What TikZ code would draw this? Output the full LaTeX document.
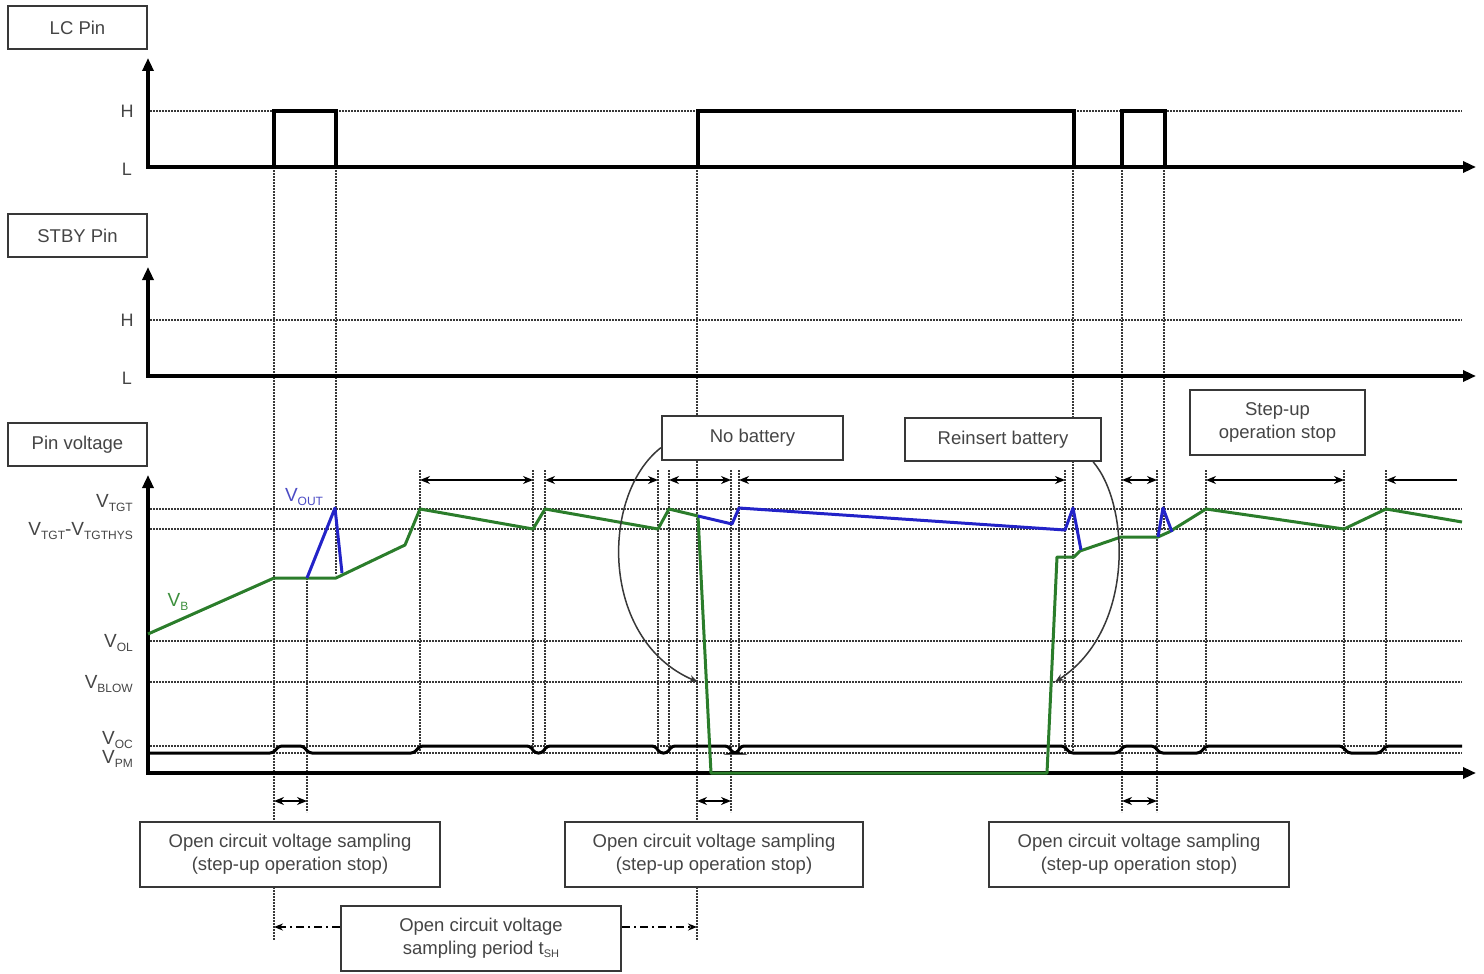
\documentclass[tikz,border=0pt]{standalone}
\usepackage{fontspec}
\setmainfont{Liberation Sans}
\usetikzlibrary{arrows.meta}
\definecolor{txtgray}{HTML}{454545}
\definecolor{boxgray}{HTML}{383838}
\definecolor{dotgray}{HTML}{383838}
\definecolor{vbgreen}{HTML}{2B7D2B}
\definecolor{voblue}{HTML}{2323C8}
\definecolor{vbtext}{HTML}{3D8F3D}
\definecolor{votext}{HTML}{4B4BC4}
\newcommand\vsub[1]{V\raisebox{-3.5pt}{\fontsize{12}{12}\selectfont #1}}
\begin{document}
\begin{tikzpicture}[x=1pt,y=-1pt,
  lbl/.style={font=\fontsize{18}{20}\selectfont, text=txtgray, inner sep=0pt},
  vlbl/.style={font=\fontsize{19}{20}\selectfont, text=txtgray, inner sep=0pt, anchor=east},
  box/.style={draw=boxgray, line width=2pt, fill=white, align=center, font=\fontsize{18.5}{23}\selectfont, text=txtgray, inner sep=0pt},
  grid/.style={line width=1.5pt, draw=dotgray, dash pattern=on 1.7pt off 1.3pt},
  axis/.style={line width=3.2pt, {Triangle[length=13pt,width=11pt]}-{Triangle[length=13pt,width=11pt]}},
  sig/.style={line width=3.2pt, line join=miter},
  vb/.style={line width=3pt, draw=vbgreen, line join=round},
  vo/.style={line width=3pt, draw=voblue, line join=round},
  dim/.style={line width=2pt, {Stealth[length=10pt,width=8pt]}-{Stealth[length=10pt,width=8pt]}},
  single/.style={line width=2pt, -{Stealth[length=10pt,width=8pt]}},
  callout/.style={line width=1.5pt, draw=boxgray, -{Stealth[length=9pt,width=7pt]}},
  dashdot/.style={line width=1.6pt, dash pattern=on 8pt off 4pt on 2pt off 4pt, -{Stealth[length=9pt,width=7pt]}},
]
\useasboundingbox (0,0) rectangle (1484,974);

% horizontal dotted grid lines
\foreach \y in {111,320,509,529,641,682,746,753}
  \draw[grid] (150,\y) -- (1462,\y);
% vertical dotted lines
\foreach \x/\ya/\yb in {274/167/940, 307/578/812, 336/167/575, 420/470/753, 533/470/753,
  545/470/753, 658/470/753, 669/470/753, 697/167/940, 731/470/812, 739/470/753,
  1065/470/753, 1073/167/753, 1122/167/812, 1157/470/812, 1164/167/530,
  1206/470/753, 1344/470/753, 1386/470/753}
  \draw[grid] (\x,\ya) -- (\x,\yb);

% axes
\draw[axis] (148,58) -- (148,167) -- (1476,167);
\draw[axis] (148,267) -- (148,376) -- (1476,376);
\draw[axis] (148,475) -- (148,773) -- (1476,773);

% LC pin pulses
\draw[sig] (274,167) -- (274,111) -- (336,111) -- (336,167);
\draw[sig] (698,167) -- (698,111) -- (1074,111) -- (1074,167);
\draw[sig] (1122,167) -- (1122,111) -- (1165,111) -- (1165,167);

% axis labels
\node[lbl] at (127,111) {H};
\node[lbl] at (127,169) {L};
\node[lbl] at (127,320) {H};
\node[lbl] at (127,378) {L};
\node[vlbl] at (133,503) {\vsub{TGT}};
\node[vlbl] at (133,531) {\vsub{TGT}-\vsub{TGTHYS}};
\node[vlbl] at (133,643) {\vsub{OL}};
\node[vlbl] at (133,684) {\vsub{BLOW}};
\node[vlbl] at (133,740) {\vsub{OC}};
\node[vlbl] at (133,759) {\vsub{PM}};

% VOC / VPM line
\draw[line width=3pt, rounded corners=3pt] (148,753) -- (273,753) -- (279,746) -- (303,746) -- (309,753)
  -- (414,753) -- (420,746) -- (530,746) -- (535,753) -- (542,753) -- (547,746) -- (655,746)
  -- (660,753) -- (667,753) -- (672,746) -- (728,746) -- (733,753) -- (737,753) -- (741,746)
  -- (1064,746) -- (1070,753) -- (1118,753) -- (1124,746) -- (1154,746) -- (1160,753)
  -- (1200,753) -- (1206,746) -- (1342,746) -- (1348,753) -- (1380,753) -- (1386,746) -- (1462,746);

% V_B (green)
\draw[vb] (148,634) -- (274,578) -- (336,578) -- (405,545) -- (420,509) -- (533,529) -- (545,509)
  -- (658,529) -- (669,509) -- (698,516) -- (711,773) -- (1047,773) -- (1057,557) -- (1074,557)
  -- (1080,551) -- (1121,537) -- (1158,537) -- (1169,532) -- (1206,509) -- (1344,529)
  -- (1386,509) -- (1462,522);
% V_OUT (blue)
\draw[vo] (307,578) -- (335,508) -- (342,573);
\draw[vo] (698,516) -- (732,524) -- (739,508) -- (1065,530) -- (1073,508) -- (1081,550);
\draw[vo] (1158,537) -- (1163,508) -- (1172,532);

\node[font=\fontsize{19}{20}\selectfont, text=votext] at (304,497) {\vsub{OUT}};
\node[font=\fontsize{19}{20}\selectfont, text=vbtext] at (178,602) {\vsub{B}};

% dimension arrows
\draw[dim] (420,480) -- (533,480);
\draw[dim] (545,480) -- (658,480);
\draw[dim] (669,480) -- (731,480);
\draw[dim] (739,480) -- (1065,480);
\draw[dim] (1122,480) -- (1157,480);
\draw[dim] (1206,480) -- (1344,480);
\draw[single] (1457,480) -- (1386,480);
\draw[dim] (274,801) -- (307,801);
\draw[dim] (697,801) -- (731,801);
\draw[dim] (1122,801) -- (1157,801);

% boxes
\node[box, minimum width=139pt, minimum height=43pt] (lcbox) at (77.5,27.5) {LC Pin};
\node[box, minimum width=139pt, minimum height=43pt] (stbybox) at (77.5,235.5) {STBY Pin};
\node[box, minimum width=139pt, minimum height=43pt] (pvbox) at (77.5,444.5) {Pin voltage};
\node[box, minimum width=181pt, minimum height=44pt] (nobat) at (752.5,438) {No battery};
\node[box, minimum width=196pt, minimum height=43pt] (rein) at (1003,439.5) {Reinsert battery};
\node[box, minimum width=175pt, minimum height=65pt] (stop) at (1277.5,422.5) {Step-up\\operation stop};
\node[box, minimum width=300pt, minimum height=65pt] (ocv1) at (290,854.5) {Open circuit voltage sampling\\(step-up operation stop)};
\node[box, minimum width=298pt, minimum height=65pt] (ocv2) at (714,854.5) {Open circuit voltage sampling\\(step-up operation stop)};
\node[box, minimum width=300pt, minimum height=65pt] (ocv3) at (1139,854.5) {Open circuit voltage sampling\\(step-up operation stop)};
\node[box, minimum width=280pt, minimum height=65pt] (per) at (481,938.5) {Open circuit voltage\\sampling period t\raisebox{-3pt}{\fontsize{11}{11}\selectfont SH}};

% period arrows
\coordinate (perL) at (274,927);
\coordinate (perR) at (697,927);
\draw[dashdot] (per.west |- perL) -- (perL);
\draw[dashdot] (per.east |- perR) -- (perR);

% callout curves
\coordinate (nbend) at (698,682);
\coordinate (rbend) at (1055,682);
\draw[callout] (nobat.186) .. controls (600,495) and (600,640) .. (nbend);
\draw[callout] (rein.346) .. controls (1130,505) and (1135,630) .. (rbend);
\end{tikzpicture}
\end{document}
